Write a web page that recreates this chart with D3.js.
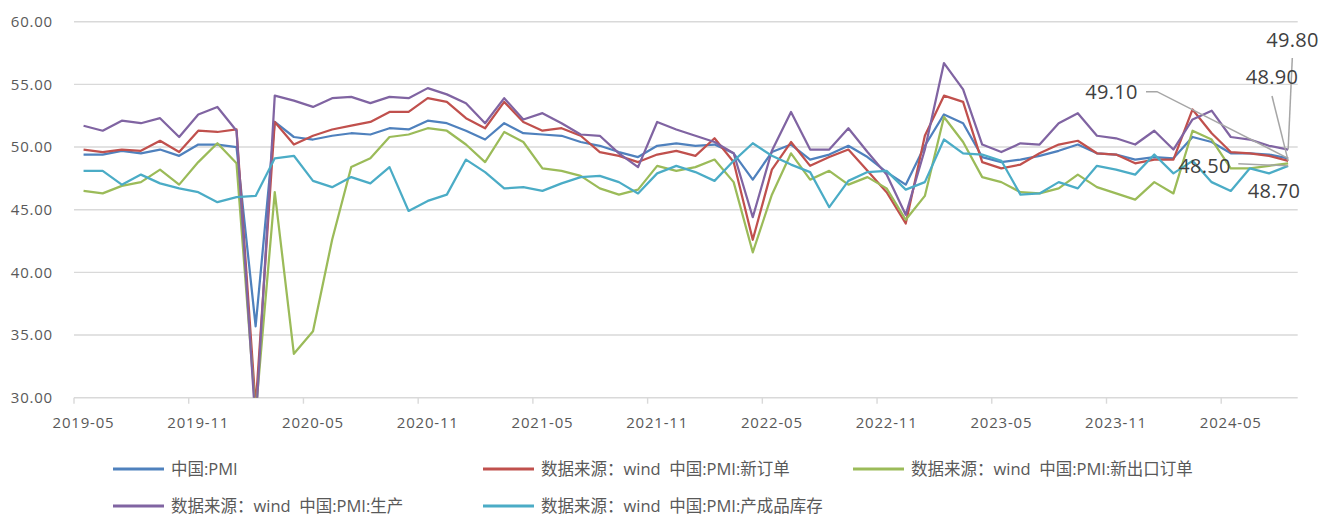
<!DOCTYPE html>
<html>
<head>
<meta charset="utf-8">
<script src="https://cdn.jsdelivr.net/npm/d3@7/dist/d3.min.js"></script>
<style>
	body { margin: 0; background: #fff; }
	text { font-family: "Open Sans", "Noto Sans CJK SC", sans-serif; }
</style>
</head>
<body>
<div id="chart-area"></div>
<script>

//**************** Data *****************//

const months = [
	'2019-05','2019-06','2019-07','2019-08','2019-09','2019-10','2019-11','2019-12',
	'2020-01','2020-02','2020-03','2020-04','2020-05','2020-06','2020-07','2020-08','2020-09','2020-10','2020-11','2020-12',
	'2021-01','2021-02','2021-03','2021-04','2021-05','2021-06','2021-07','2021-08','2021-09','2021-10','2021-11','2021-12',
	'2022-01','2022-02','2022-03','2022-04','2022-05','2022-06','2022-07','2022-08','2022-09','2022-10','2022-11','2022-12',
	'2023-01','2023-02','2023-03','2023-04','2023-05','2023-06','2023-07','2023-08','2023-09','2023-10','2023-11','2023-12',
	'2024-01','2024-02','2024-03','2024-04','2024-05','2024-06','2024-07','2024-08'
];

const tickLabels = ['2019-05','2019-11','2020-05','2020-11','2021-05','2021-11',
	'2022-05','2022-11','2023-05','2023-11','2024-05'];

const yTicks = [30, 35, 40, 45, 50, 55, 60];

const pmi = [
	49.4, 49.4, 49.7, 49.5, 49.8, 49.3, 50.2, 50.2,
	50.0, 35.7, 52.0, 50.8, 50.6, 50.9, 51.1, 51.0, 51.5, 51.4, 52.1, 51.9,
	51.3, 50.6, 51.9, 51.1, 51.0, 50.9, 50.4, 50.1, 49.6, 49.2, 50.1, 50.3,
	50.1, 50.2, 49.5, 47.4, 49.6, 50.2, 49.0, 49.4, 50.1, 49.2, 48.0, 47.0,
	50.1, 52.6, 51.9, 49.2, 48.8, 49.0, 49.3, 49.7, 50.2, 49.5, 49.4, 49.0,
	49.2, 49.1, 50.8, 50.4, 49.5, 49.5, 49.4, 49.1
];

const newOrders = [
	49.8, 49.6, 49.8, 49.7, 50.5, 49.6, 51.3, 51.2,
	51.4, 29.3, 52.0, 50.2, 50.9, 51.4, 51.7, 52.0, 52.8, 52.8, 53.9, 53.6,
	52.3, 51.5, 53.6, 52.0, 51.3, 51.5, 50.9, 49.6, 49.3, 48.8, 49.4, 49.7,
	49.3, 50.7, 48.8, 42.6, 48.2, 50.4, 48.5, 49.2, 49.8, 48.1, 46.4, 43.9,
	50.9, 54.1, 53.6, 48.8, 48.3, 48.6, 49.5, 50.2, 50.5, 49.5, 49.4, 48.7,
	49.0, 49.0, 53.0, 51.1, 49.6, 49.5, 49.3, 48.9
];

const exportOrders = [
	46.5, 46.3, 46.9, 47.2, 48.2, 47.0, 48.8, 50.3,
	48.7, 28.7, 46.4, 33.5, 35.3, 42.6, 48.4, 49.1, 50.8, 51.0, 51.5, 51.3,
	50.2, 48.8, 51.2, 50.4, 48.3, 48.1, 47.7, 46.7, 46.2, 46.6, 48.5, 48.1,
	48.4, 49.0, 47.2, 41.6, 46.2, 49.5, 47.4, 48.1, 47.0, 47.6, 46.7, 44.2,
	46.1, 52.4, 50.4, 47.6, 47.2, 46.4, 46.3, 46.7, 47.8, 46.8, 46.3, 45.8,
	47.2, 46.3, 51.3, 50.6, 48.3, 48.3, 48.5, 48.7
];

const production = [
	51.7, 51.3, 52.1, 51.9, 52.3, 50.8, 52.6, 53.2,
	51.3, 27.8, 54.1, 53.7, 53.2, 53.9, 54.0, 53.5, 54.0, 53.9, 54.7, 54.2,
	53.5, 51.9, 53.9, 52.2, 52.7, 51.9, 51.0, 50.9, 49.5, 48.4, 52.0, 51.4,
	50.9, 50.4, 49.5, 44.4, 49.7, 52.8, 49.8, 49.8, 51.5, 49.6, 47.8, 44.6,
	49.8, 56.7, 54.6, 50.2, 49.6, 50.3, 50.2, 51.9, 52.7, 50.9, 50.7, 50.2,
	51.3, 49.8, 52.2, 52.9, 50.8, 50.6, 50.1, 49.8
];

const inventory = [
	48.1, 48.1, 47.0, 47.8, 47.1, 46.7, 46.4, 45.6,
	46.0, 46.1, 49.1, 49.3, 47.3, 46.8, 47.6, 47.1, 48.4, 44.9, 45.7, 46.2,
	49.0, 48.0, 46.7, 46.8, 46.5, 47.1, 47.6, 47.7, 47.2, 46.3, 47.9, 48.5,
	48.0, 47.3, 48.9, 50.3, 49.3, 48.6, 48.0, 45.2, 47.3, 48.0, 48.1, 46.6,
	47.2, 50.6, 49.5, 49.4, 48.9, 46.2, 46.3, 47.2, 46.7, 48.5, 48.2, 47.8,
	49.4, 47.9, 48.9, 47.2, 46.5, 48.3, 47.9, 48.5
];

const seriesNames = [
	'中国:PMI',
	'数据来源：wind  中国:PMI:新订单',
	'数据来源：wind  中国:PMI:新出口订单',
	'数据来源：wind  中国:PMI:生产',
	'数据来源：wind  中国:PMI:产成品库存'
];

const seriesColors = ['#4f81bd', '#c0504d', '#9bbb59', '#8064a2', '#4bacc6'];

let series = [pmi, newOrders, exportOrders, production, inventory].map((values, i) => ({
	name: seriesNames[i],
	color: seriesColors[i],
	values: values
}));


//************* Canvas Set Up *************//

let W = 1320, H = 516;
let plot = { left: 74, right: 1297.7, top: 21.7, bottom: 397.7 };

let svg = d3.select('#chart-area').append('svg')
	.attr('width', W)
	.attr('height', H);

let x = d3.scaleBand()
	.domain(months)
	.range([plot.left, plot.right])
	.padding(0);

let y = d3.scaleLinear()
	.domain([30, 60])
	.range([plot.bottom, plot.top]);

let cx = m => x(m) + x.bandwidth() / 2;

// gridlines
svg.append('g')
	.selectAll('line')
	.data(yTicks)
	.enter()
	.append('line')
		.attr('x1', plot.left)
		.attr('x2', plot.right)
		.attr('y1', d => y(d))
		.attr('y2', d => y(d))
		.attr('stroke', '#d9d9d9')
		.attr('stroke-width', 1.4);

// y labels
svg.append('g')
	.selectAll('text')
	.data(yTicks)
	.enter()
	.append('text')
		.attr('x', 53)
		.attr('y', d => y(d))
		.attr('dy', '0.36em')
		.attr('text-anchor', 'end')
		.attr('font-size', '15px')
		.attr('letter-spacing', '0.8px')
		.attr('fill', '#595959')
		.text(d => d.toFixed(2));

// x tick marks at category boundaries
svg.append('g')
	.selectAll('line')
	.data(tickLabels)
	.enter()
	.append('line')
		.attr('x1', d => x(d))
		.attr('x2', d => x(d))
		.attr('y1', plot.bottom)
		.attr('y2', plot.bottom + 6)
		.attr('stroke', '#d9d9d9')
		.attr('stroke-width', 1.4);

// x labels
svg.append('g')
	.selectAll('text')
	.data(tickLabels)
	.enter()
	.append('text')
		.attr('x', d => cx(d))
		.attr('y', 423)
		.attr('dy', '0.36em')
		.attr('text-anchor', 'middle')
		.attr('font-size', '15px')
		.attr('letter-spacing', '0.8px')
		.attr('fill', '#595959')
		.text(d => d);

// clip lines to plot area
svg.append('clipPath')
	.attr('id', 'plot-clip')
	.append('rect')
		.attr('x', plot.left)
		.attr('y', plot.top - 5)
		.attr('width', plot.right - plot.left + 5)
		.attr('height', plot.bottom - plot.top + 5);

let line = d3.line()
	.x((d, i) => cx(months[i]))
	.y(d => y(d));

svg.append('g')
	.attr('clip-path', 'url(#plot-clip)')
	.selectAll('path')
	.data(series)
	.enter()
	.append('path')
		.attr('d', d => line(d.values))
		.attr('fill', 'none')
		.attr('stroke', d => d.color)
		.attr('stroke-width', 2.25)
		.attr('stroke-linejoin', 'round');


//************* Last value labels *************//

let last = months.length - 1;
let lastX = cx(months[last]);

// label centre and leader start points per series
let labelSpots = [
	{ s: 0, tx: 1111.5, ty: 91.7, lead: [[1146, 91.7], [1157, 91.7]] },
	{ s: 1, tx: 1272, ty: 76.5, lead: [[1272, 96]] },
	{ s: 2, tx: 1274, ty: 191, lead: null },
	{ s: 3, tx: 1292.5, ty: 40, lead: [[1292.3, 58]] },
	{ s: 4, tx: 1204.5, ty: 165.5, lead: [[1238.3, 163.8]] }
];

labelSpots.forEach(l => {
	let v = series[l.s].values[last];
	if (l.lead) {
		let pts = l.lead.concat([[lastX, y(v)]]);
		svg.append('path')
			.attr('d', d3.line()(pts))
			.attr('fill', 'none')
			.attr('stroke', '#a6a6a6')
			.attr('stroke-width', 1.5);
	}
});

labelSpots.forEach(l => {
	let v = series[l.s].values[last];
	svg.append('text')
		.attr('x', l.tx)
		.attr('y', l.ty)
		.attr('dy', '0.36em')
		.attr('text-anchor', 'middle')
		.attr('font-size', '20px')
		.attr('letter-spacing', '0.3px')
		.attr('fill', '#404040')
		.text(v.toFixed(2));
});


//**************** Legend *****************//

let legendPos = [[113, 469], [483, 469], [853, 469], [113, 506], [483, 506]];

let legend = svg.append('g')
	.selectAll('g')
	.data(series)
	.enter()
	.append('g')
		.attr('transform', (d, i) => 'translate(' + legendPos[i][0] + ', ' + legendPos[i][1] + ')');

legend.append('line')
	.attr('x1', 0)
	.attr('x2', 51)
	.attr('stroke', d => d.color)
	.attr('stroke-width', 3);

legend.append('text')
	.attr('x', 58)
	.attr('dy', '0.36em')
	.attr('font-size', '16.5px')
	.attr('fill', '#595959')
	.style('white-space', 'pre')
	.text(d => d.name);

</script>
</body>
</html>
